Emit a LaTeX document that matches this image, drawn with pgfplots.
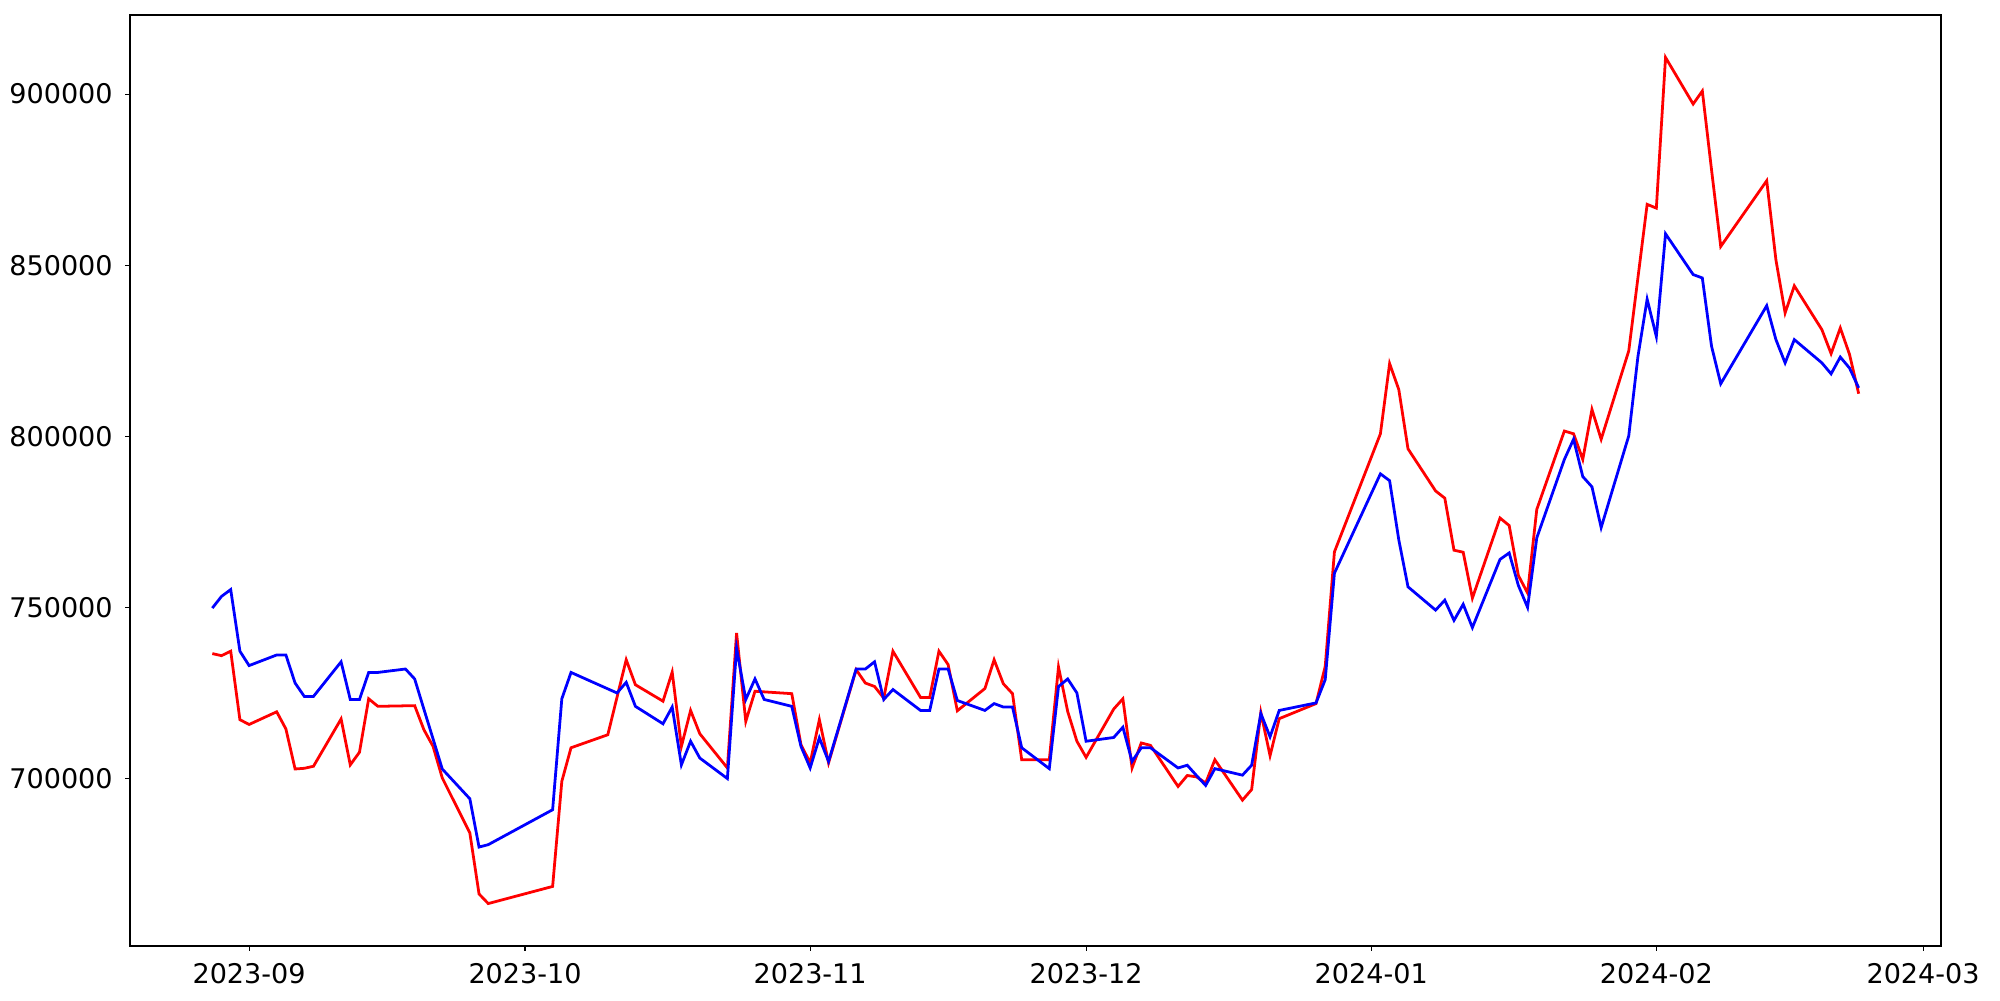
\documentclass[border=0pt]{standalone}
\usepackage{fontspec}
\setmainfont{DejaVu Sans}
\usepackage{pgfplots}
\pgfplotsset{compat=1.18}
\begin{document}
\begin{tikzpicture}
\begin{axis}[
  scale only axis, width=18.11cm, height=9.31cm,
  xmin=-12.95, xmax=183.95, ymin=651200, ymax=923100,
  xtick={0,30,61,91,122,153,182},
  xticklabels={2023-09,2023-10,2023-11,2023-12,2024-01,2024-02,2024-03},
  ytick={700000,750000,800000,850000,900000},
  scaled y ticks=false,
  yticklabel style={/pgf/number format/fixed,/pgf/number format/1000 sep={}},
  /pgf/number format/assume math mode=true,
  tick label style={font=\fontsize{7.7}{9.2}\selectfont},
  tick align=outside, tick pos=left,
  major tick length=0.049cm,
  tick style={line width=0.32pt,black},
  axis line style={line width=0.32pt},
]
\addplot[red, line width=0.79pt, mark=none] coordinates {
(-4,736600)(-3,736000)(-2,737300)(-1,717300)(0,715900)(3,719600)(4,714600)(5,702900)(6,703100)(7,703700)
(10,717500)(11,704100)(12,707800)(13,723400)(14,721200)(18,721400)(19,714400)(20,709500)(21,700300)
(24,684200)(25,666400)(26,663600)(33,668600)(34,699300)(35,709100)(39,712900)(41,734800)(42,727500)
(45,722700)(46,731200)(47,709500)(48,720000)(49,713200)(52,703200)(53,742600)(54,716800)(55,725600)
(59,724900)(60,710000)(61,704700)(62,717300)(63,704700)(66,731900)(67,728000)(68,727000)(69,723600)(70,737300)
(73,723800)(74,723800)(75,737300)(76,733400)(77,719900)(80,726400)(81,734800)(82,727800)(83,724900)(84,705600)
(87,705600)(88,732700)(89,719700)(90,711000)(91,706300)(94,720400)(95,723400)(96,703200)(97,710500)(98,709800)
(101,697800)(102,701000)(103,700600)(104,698800)(105,705600)(108,693800)(109,696900)(110,719400)(111,706800)(112,717600)
(116,722000)(117,732900)(118,766300)(123,800800)(124,821300)(125,813700)(126,796400)(129,784100)(130,782000)
(131,766800)(132,766200)(133,752800)(136,776200)(137,774000)(138,759400)(139,754300)(140,778700)
(143,801600)(144,800800)(145,793300)(146,807900)(147,799200)(150,825000)(152,867800)(153,866700)(154,910700)
(157,897100)(158,900900)(159,877900)(160,855500)(165,874700)(166,851600)(167,836100)(168,844000)
(171,831200)(172,824200)(173,831700)(174,824000)(175,812500)
};
\addplot[blue, line width=0.79pt, mark=none] coordinates {
(-4,749900)(-3,753300)(-2,755300)(-1,737300)(0,733100)(3,736200)(4,736200)(5,728000)(6,724100)(7,724100)
(10,734200)(11,723200)(12,723200)(13,731100)(14,731100)(17,732100)(18,729200)(19,720400)(20,711700)(21,702900)
(24,694200)(25,680100)(26,680800)(33,691000)(34,723400)(35,731100)(40,725100)(41,728200)(42,721200)
(45,716100)(46,721000)(47,704100)(48,711000)(49,706100)(52,700100)(53,738200)(54,723200)(55,729200)(56,723200)
(59,721200)(60,709500)(61,703200)(62,712000)(63,705100)(66,732100)(67,732100)(68,734200)(69,723200)(70,726100)
(73,720000)(74,720000)(75,732100)(76,732100)(77,722900)(80,720000)(81,722000)(82,721000)(83,721000)(84,709100)
(87,703000)(88,727000)(89,729200)(90,725100)(91,711000)(94,712100)(95,715100)(96,705100)(97,709100)(98,709100)
(101,703200)(102,704000)(103,701000)(104,698100)(105,703000)(108,701100)(109,704000)(110,719100)(111,712300)(112,720000)
(116,722200)(117,729000)(118,760100)(123,789100)(124,787100)(125,769800)(126,756100)(129,749300)(130,752200)
(131,746300)(132,751000)(133,744200)(136,764100)(137,766000)(138,756500)(139,750100)(140,770400)
(143,793300)(144,799200)(145,788300)(146,785300)(147,773400)(150,800200)(151,823400)(152,840100)(153,829200)(154,859200)
(157,847300)(158,846300)(159,826400)(160,815400)(165,838200)(166,828300)(167,821500)(168,828300)
(171,821500)(172,818300)(173,823200)(174,820000)(175,814200)
};
\end{axis}
\pgfresetboundingbox
\path[use as bounding box] ([shift={(-1.30cm,-0.54cm)}]current axis.south west) rectangle ([shift={(0.59cm,0.15cm)}]current axis.north east);
\end{tikzpicture}
\end{document}
